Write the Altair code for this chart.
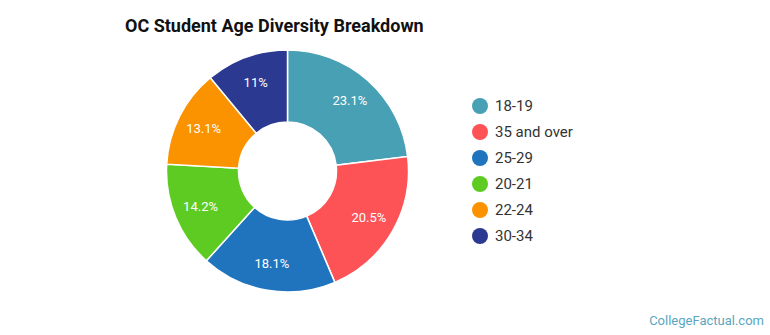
import altair as alt
import pandas as pd

categories = ["18-19", "35 and over", "25-29", "20-21", "22-24", "30-34"]
values = [23.1, 20.5, 18.1, 14.2, 13.1, 11.0]
labels = ["23.1%", "20.5%", "18.1%", "14.2%", "13.1%", "11%"]
colors = ["#48a0b4", "#fd5356", "#1f74bd", "#5ecb22", "#fb9200", "#2b3990"]

df = pd.DataFrame({"cat": categories, "value": values, "label": labels,
                   "idx": list(range(len(categories)))})

CX, CY = 287.5, 171

base = alt.Chart(df).encode(
    theta=alt.Theta("value:Q", stack=True),
    order=alt.Order("idx:Q"),
)

arcs = base.mark_arc(outerRadius=121, innerRadius=49, stroke="white", strokeWidth=1.5).encode(
    x=alt.value(CX), y=alt.value(CY),
    color=alt.Color("cat:N", sort=categories,
                    scale=alt.Scale(domain=categories, range=colors),
                    legend=alt.Legend(title=None, orient="none", legendX=472, legendY=98,
                                      symbolType="circle", symbolSize=256, symbolStrokeWidth=0,
                                      labelFontSize=15, labelFont="Roboto", labelColor="#333333",
                                      rowPadding=10, labelOffset=7, padding=0)),
)

text = base.mark_text(radius=94, fontSize=13, font="Roboto", color="white").encode(
    x=alt.value(CX), y=alt.value(CY), text="label:N"
)

title = alt.Chart(pd.DataFrame({"t": ["OC Student Age Diversity Breakdown"]})).mark_text(
    align="left", baseline="middle", fontSize=18, fontWeight="bold", font="Roboto", color="#111111"
).encode(x=alt.value(125), y=alt.value(27), text="t:N")

mark = alt.Chart(pd.DataFrame({"t": ["CollegeFactual.com"]})).mark_text(
    align="right", baseline="middle", fontSize=13, font="Roboto", color="#5aa6c0"
).encode(x=alt.value(764), y=alt.value(321), text="t:N")

chart = alt.layer(arcs, text, title, mark).properties(
    width=770, height=335, autosize="none", padding=0
).configure_view(stroke=None)

chart.save("out.html", embed_options={"renderer": "svg", "actions": False})
